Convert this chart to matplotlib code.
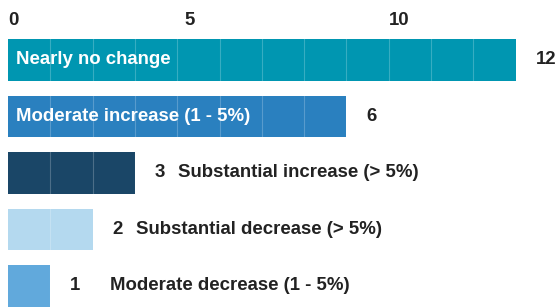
import matplotlib
matplotlib.use("Agg")
import matplotlib.pyplot as plt

# data, top bar first
categories = ["Nearly no change", "Moderate increase (1 - 5%)", "Substantial increase (> 5%)",
              "Substantial decrease (> 5%)", "Moderate decrease (1 - 5%)"]
values = [12, 6, 3, 2, 1]          # printed numbers
bar_lengths = [12, 8, 3, 2, 1]     # drawn lengths as they appear in the picture
label_inside = [True, True, False, False, False]
colors = ["#0096b1", "#2a80bf", "#1a4667", "#b4d9ef", "#61a9dc"]

tick_labels = ["0", "5", "10"]
tick_pos = [0.12, 4.3, 9.25]  # where the labels sit in the picture

plt.rcParams["font.family"] = ["Liberation Sans", "DejaVu Sans"]
plt.rcParams["font.weight"] = "bold"
fs = 13.4
dark = "#222222"

fig = plt.figure(figsize=(5.58, 3.08), dpi=100)
ax = fig.add_axes([8 / 558, 0, 550 / 558, 282 / 308])

ypos = list(range(len(values)))
ax.barh(ypos, bar_lengths, height=0.74, color=colors, zorder=2)

# faint unit lines across the bars
for k in range(1, max(bar_lengths)):
    ax.axvline(k, color="white", alpha=0.22, lw=0.8, zorder=3)

for y, v, L, cat, inside in zip(ypos, values, bar_lengths, categories, label_inside):
    ax.annotate(str(v), (L, y), xytext=(14.4, 0), textcoords="offset points",
                va="center", ha="left", fontsize=fs, fontweight="bold", color=dark)
    if inside:
        ax.text(0.19, y, cat, color="white", fontsize=fs, fontweight="bold",
                va="center", ha="left", zorder=4)
    else:
        off = 43 if L == 1 else 31
        ax.annotate(cat, (L, y), xytext=(off, 0), textcoords="offset points",
                    va="center", ha="left", fontsize=fs, fontweight="bold", color=dark)

ax.set_xlim(0, 13)
ax.set_ylim(4.39, -0.6)
ax.xaxis.tick_top()
ax.set_xticks(tick_pos)
ax.set_xticklabels(tick_labels, fontsize=fs, fontweight="bold", color=dark)
ax.tick_params(axis="x", length=0, pad=-2.5)
ax.set_yticks([])
for s in ax.spines.values():
    s.set_visible(False)

fig.savefig("out.png", dpi=100)
